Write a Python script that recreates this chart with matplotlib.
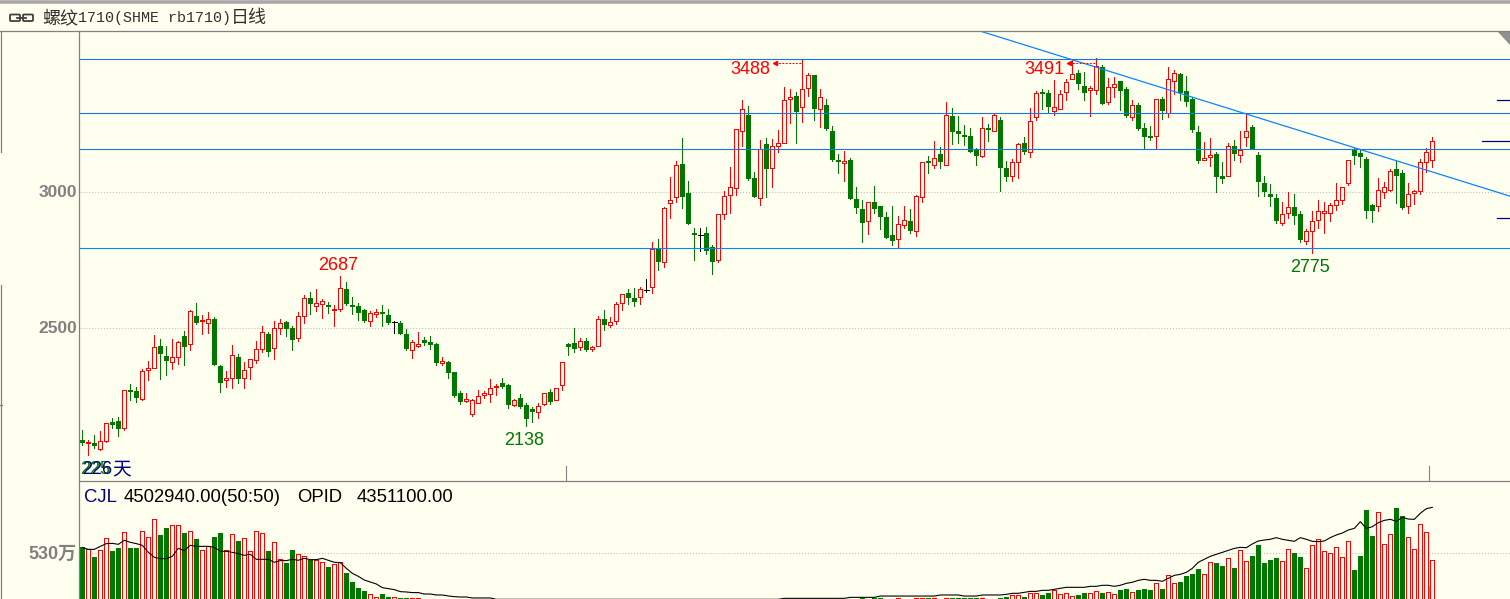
import matplotlib
matplotlib.use('Agg')
import matplotlib.pyplot as plt
from matplotlib.patches import FancyBboxPatch, Polygon

# daily candles, rb1710
opens = [2087, 2075, 2076, 2055, 2084, 2153, 2157, 2130, 2271, 2267,
         2239, 2343, 2350, 2432, 2396, 2372, 2391, 2469, 2438, 2543,
         2523, 2516, 2532, 2359, 2306, 2313, 2391, 2313, 2354, 2380,
         2423, 2476, 2424, 2500, 2519, 2499, 2463, 2541, 2609, 2581,
         2588, 2582, 2563, 2570, 2641, 2582, 2579, 2564, 2525, 2550,
         2557, 2546, 2519, 2516, 2476, 2418, 2432, 2454, 2446, 2439,
         2370, 2373, 2336, 2259, 2229, 2183, 2223, 2253, 2256, 2280,
         2296, 2288, 2216, 2240, 2215, 2200, 2190, 2220, 2262, 2234,
         2289, 2439, 2443, 2427, 2450, 2422, 2433, 2533, 2510, 2525,
         2591, 2626, 2608, 2613, 2639, 2650, 2788, 2742, 2956, 2981,
         3101, 2994, 2847, 2842, 2847, 2796, 2749, 2918, 2988, 3014,
         3223, 3281, 3049, 2977, 3174, 3087, 3168, 3179, 3341, 3351,
         3311, 3381, 3428, 3304, 3318, 3222, 3116, 3106, 3116, 2972,
         2935, 2893, 2961, 2946, 2906, 2840, 2826, 2878, 2891, 2856,
         2981, 3112, 3098, 3138, 3098, 3277, 3222, 3207, 3204, 3152,
         3132, 3233, 3223, 3263, 3086, 3058, 3109, 3178, 3144, 3275,
         3366, 3362, 3297, 3304, 3367, 3413, 3435, 3388, 3374, 3374,
         3458, 3330, 3385, 3406, 3377, 3275, 3318, 3233, 3204, 3205,
         3340, 3288, 3407, 3432, 3369, 3340, 3219, 3117, 3128, 3138,
         3057, 3058, 3167, 3135, 3199, 3237, 3134, 3031, 2991, 2976,
         2886, 2922, 2943, 2917, 2819, 2854, 2897, 2921, 2922, 2952,
         2968, 3031, 3153, 3142, 3120, 2951, 2948, 2997, 3006, 3083,
         3068, 2948, 2996, 3002, 3110, 3117]
closes = [2077, 2081, 2065, 2084, 2148, 2143, 2128, 2269, 2264, 2242,
          2340, 2350, 2427, 2404, 2378, 2391, 2446, 2430, 2560, 2518,
          2527, 2530, 2364, 2298, 2313, 2398, 2312, 2343, 2383, 2420,
          2483, 2411, 2497, 2516, 2496, 2456, 2541, 2608, 2588, 2589,
          2597, 2576, 2570, 2647, 2586, 2576, 2553, 2523, 2553, 2557,
          2550, 2516, 2519, 2476, 2421, 2446, 2438, 2443, 2435, 2369,
          2376, 2334, 2248, 2226, 2237, 2232, 2250, 2259, 2276, 2287,
          2281, 2215, 2233, 2207, 2163, 2189, 2213, 2261, 2226, 2276,
          2372, 2428, 2422, 2449, 2419, 2430, 2530, 2509, 2522, 2588,
          2625, 2608, 2593, 2640, 2639, 2788, 2740, 2938, 2967, 3099,
          2979, 2880, 2840, 2842, 2781, 2740, 2917, 2982, 3015, 3228,
          3305, 3046, 2979, 3158, 3082, 3166, 3180, 3338, 3349, 3292,
          3375, 3430, 3303, 3346, 3230, 3116, 3109, 3114, 2972, 2939,
          2884, 2960, 2935, 2906, 2829, 2818, 2879, 2894, 2855, 2983,
          3107, 3105, 3125, 3108, 3280, 3219, 3211, 3201, 3145, 3130,
          3232, 3226, 3280, 3086, 3053, 3107, 3173, 3145, 3261, 3361,
          3358, 3310, 3309, 3357, 3401, 3431, 3395, 3362, 3380, 3460,
          3321, 3386, 3394, 3369, 3277, 3317, 3230, 3200, 3196, 3339,
          3296, 3412, 3434, 3362, 3329, 3226, 3112, 3125, 3136, 3053,
          3046, 3166, 3138, 3151, 3221, 3156, 3035, 2998, 2980, 2891,
          2916, 2942, 2910, 2822, 2854, 2891, 2927, 2927, 2949, 2968,
          3016, 3115, 3131, 3127, 2929, 2929, 3005, 3016, 3074, 3057,
          2940, 2990, 3001, 3107, 3144, 3185]
highs = [2123, 2087, 2105, 2120, 2148, 2168, 2171, 2269, 2293, 2280,
         2347, 2377, 2473, 2458, 2432, 2458, 2452, 2487, 2565, 2590,
         2546, 2556, 2538, 2362, 2340, 2436, 2402, 2372, 2383, 2451,
         2505, 2485, 2523, 2532, 2523, 2505, 2556, 2620, 2630, 2642,
         2604, 2593, 2582, 2689, 2667, 2612, 2590, 2568, 2560, 2568,
         2582, 2568, 2523, 2523, 2494, 2454, 2483, 2465, 2468, 2443,
         2391, 2376, 2336, 2266, 2259, 2237, 2270, 2266, 2310, 2292,
         2314, 2292, 2236, 2255, 2222, 2207, 2222, 2261, 2273, 2276,
         2372, 2443, 2499, 2460, 2460, 2434, 2541, 2564, 2538, 2593,
         2625, 2641, 2645, 2648, 2678, 2814, 2825, 2943, 3053, 3112,
         3196, 3038, 2865, 2865, 2869, 2803, 2917, 3001, 3090, 3228,
         3336, 3314, 3071, 3189, 3196, 3193, 3226, 3383, 3376, 3365,
         3488, 3435, 3428, 3377, 3340, 3241, 3138, 3149, 3123, 3016,
         2969, 2960, 3020, 2946, 2924, 2946, 2910, 2946, 2935, 2987,
         3107, 3130, 3185, 3163, 3329, 3307, 3277, 3244, 3233, 3160,
         3274, 3248, 3285, 3274, 3112, 3119, 3178, 3200, 3307, 3368,
         3377, 3373, 3410, 3373, 3413, 3483, 3446, 3439, 3388, 3491,
         3465, 3417, 3421, 3406, 3384, 3336, 3325, 3252, 3241, 3339,
         3347, 3458, 3446, 3435, 3424, 3347, 3241, 3182, 3196, 3145,
         3108, 3177, 3189, 3222, 3285, 3244, 3145, 3057, 3027, 2991,
         2962, 2998, 2991, 2929, 2862, 2929, 2969, 2962, 2958, 3031,
         3016, 3115, 3160, 3153, 3127, 2954, 3050, 3035, 3083, 3112,
         3079, 3031, 3006, 3120, 3160, 3201]
lows = [2068, 2032, 2056, 2050, 2079, 2130, 2101, 2123, 2234, 2226,
        2235, 2307, 2350, 2311, 2326, 2348, 2366, 2362, 2418, 2513,
        2476, 2481, 2361, 2264, 2282, 2278, 2296, 2278, 2311, 2369,
        2410, 2394, 2385, 2476, 2469, 2418, 2451, 2517, 2550, 2561,
        2535, 2553, 2505, 2560, 2582, 2549, 2527, 2520, 2505, 2538,
        2505, 2512, 2479, 2476, 2417, 2387, 2428, 2435, 2421, 2362,
        2362, 2314, 2244, 2218, 2226, 2174, 2222, 2240, 2226, 2251,
        2277, 2204, 2211, 2204, 2137, 2152, 2167, 2216, 2218, 2234,
        2270, 2399, 2410, 2417, 2415, 2414, 2433, 2490, 2501, 2512,
        2564, 2586, 2579, 2586, 2630, 2626, 2711, 2722, 2902, 2961,
        2939, 2880, 2748, 2781, 2770, 2696, 2740, 2898, 2921, 2987,
        3167, 3042, 2979, 2950, 2979, 3016, 3145, 3179, 3251, 3178,
        3255, 3351, 3263, 3237, 3226, 3112, 3068, 3038, 2972, 2921,
        2814, 2843, 2921, 2862, 2829, 2803, 2792, 2866, 2847, 2836,
        2961, 3068, 3086, 3086, 3097, 3174, 3178, 3171, 3145, 3097,
        3127, 3185, 3223, 3002, 3038, 3038, 3049, 3138, 3127, 3263,
        3303, 3287, 3281, 3303, 3336, 3413, 3377, 3336, 3277, 3358,
        3321, 3321, 3347, 3299, 3274, 3263, 3226, 3155, 3189, 3155,
        3266, 3274, 3358, 3336, 3314, 3219, 3105, 3116, 3094, 2998,
        3031, 3058, 3116, 3108, 3167, 3156, 2983, 2983, 2946, 2884,
        2877, 2903, 2881, 2815, 2807, 2774, 2866, 2848, 2892, 2932,
        2954, 3024, 3101, 3090, 2903, 2888, 2929, 2976, 3002, 2958,
        2936, 2921, 2954, 2991, 3072, 3090]

# volume in units of 10k lots; the 8s sit below the cropped bottom edge
volumes = [606, 575, 488, 564, 700, 556, 590, 768, 590, 590,
           780, 712, 916, 738, 818, 848, 848, 761, 780, 693,
           564, 609, 715, 761, 568, 746, 670, 700, 553, 780,
           757, 556, 655, 462, 420, 568, 519, 496, 458, 458,
           428, 375, 405, 428, 307, 205, 137, 102, 65, 31,
           65, 34, 34, 23, 23, 23, 23, 8, 8, 8,
           8, 8, 8, 8, 8, 8, 8, 8, 8, 8,
           8, 8, 8, 8, 8, 8, 8, 8, 8, 8,
           8, 8, 8, 8, 8, 8, 8, 8, 8, 8,
           8, 8, 8, 8, 8, 8, 8, 8, 8, 8,
           8, 8, 8, 8, 8, 8, 8, 8, 8, 8,
           8, 8, 8, 8, 8, 8, 8, 8, 8, 8,
           8, 8, 8, 8, 8, 8, 8, 8, 8, 8,
           23, 8, 23, 23, 8, 8, 23, 8, 8, 23,
           23, 23, 23, 8, 23, 23, 23, 23, 23, 23,
           23, 8, 8, 23, 30, 53, 53, 30, 76, 76,
           53, 76, 117, 64, 76, 42, 53, 76, 76, 98,
           76, 87, 64, 110, 121, 87, 110, 121, 110, 189,
           121, 280, 189, 201, 269, 291, 348, 291, 428, 416,
           382, 473, 359, 564, 439, 499, 624, 420, 454, 477,
           439, 575, 534, 488, 359, 620, 689, 552, 530, 598,
           484, 666, 341, 499, 1022, 726, 995, 632, 745, 1044,
           953, 711, 575, 859, 768, 450]
vol_avg = [594, 575, 575, 609, 640, 643, 632, 678, 655, 640,
           621, 541, 485, 469, 469, 496, 587, 560, 621, 609,
           609, 609, 598, 553, 553, 541, 526, 507, 519, 462,
           462, 462, 428, 447, 447, 462, 451, 473, 458, 458,
           473, 451, 428, 424, 360, 303, 269, 227, 205, 182,
           140, 129, 118, 95, 91, 84, 84, 68, 68, 57,
           57, 46, 38, 34, 34, 23, 23, 23, 23, 8,
           8, 8, 8, 8, 8, 8, 8, 8, 8, 8,
           8, 8, 8, 8, 8, 8, 8, 8, 8, 8,
           8, 8, 8, 8, 8, 8, 8, 8, 8, 8,
           8, 8, 8, 8, 8, 8, 8, 8, 8, 8,
           8, 8, 8, 8, 8, 8, 8, 19, 19, 19,
           19, 19, 19, 19, 19, 19, 19, 19, 30, 30,
           30, 30, 30, 45, 45, 45, 45, 45, 45, 45,
           45, 45, 45, 57, 57, 57, 57, 45, 45, 45,
           57, 57, 57, 57, 64, 76, 76, 87, 98, 98,
           110, 110, 121, 132, 144, 144, 144, 144, 155, 155,
           167, 167, 155, 167, 189, 201, 223, 235, 223, 223,
           212, 246, 280, 291, 314, 359, 428, 462, 496, 518,
           541, 564, 586, 598, 594, 636, 670, 681, 689, 708,
           689, 677, 666, 708, 689, 666, 662, 670, 708, 738,
           760, 795, 813, 889, 813, 832, 878, 904, 916, 893,
           938, 919, 916, 984, 1037, 1052]

level_prices = [3486, 3287, 3155]
support_price = 2791
trend_x = [149.6, 237.95]
trend_y = [3590, 2983]
side_mark_prices = [3336, 3186, 2903]
side_mark_x = [235.8, 233.3, 235.8]
peak_idx = [120, 169]
peak_arrow_y = [3471, 3471]

BG = '#FFFFF0'
RED = '#FF0000'
GREEN = '#007800'
GREY = '#808080'
BLUE = '#1878D8'
WIDTH, HEIGHT = 1510, 599

fig = plt.figure(figsize=(WIDTH / 100, HEIGHT / 100), dpi=100, facecolor=BG)
left = 79.5 / WIDTH
ax = fig.add_axes([left, 1 - 481 / HEIGHT, 1 - left, 450 / HEIGHT], facecolor=BG)
vax = fig.add_axes([left, 0, 1 - left, 118 / HEIGHT], facecolor=BG)


def body_color(o, c):
    if c > o:
        return RED
    if c < o:
        return GREEN
    return 'black'


xs = list(range(len(opens)))
for x, o, h, l, c in zip(xs, opens, highs, lows, closes):
    col = body_color(o, c)
    ax.vlines(x, l, h, color=col, lw=0.72, zorder=2, antialiased=False)
    if col == RED:
        ax.bar(x, c - o, bottom=o, width=0.7, facecolor=BG, edgecolor=RED, lw=0.72,
               zorder=3, antialiased=False)
    elif col == GREEN:
        ax.bar(x, o - c, bottom=c, width=0.86, color=GREEN, lw=0, zorder=3, antialiased=False)
    else:
        ax.hlines(c, x - 0.4, x + 0.4, color='black', lw=0.72, zorder=3, antialiased=False)

for v_x, v, o, c in zip(xs, volumes, opens, closes):
    if c >= o:
        vax.bar(v_x, v, width=0.7, facecolor=BG, edgecolor=RED, lw=0.72, zorder=2, antialiased=False)
    else:
        vax.bar(v_x, v, width=0.86, color=GREEN, lw=0, zorder=2, antialiased=False)
vax.plot(xs, vol_avg, color='black', lw=0.8, zorder=3)

# horizontal levels and the falling trend line
for p in level_prices:
    ax.axhline(p, color=BLUE, lw=0.8, zorder=4)
ax.axhline(support_price, color='#0A84FF', lw=0.8, zorder=4)
ax.plot(trend_x, trend_y, color='#0A84FF', lw=0.9, zorder=4)
ax.axhline(3000, color='#C0C0C0', lw=0.8, ls=':', zorder=1)
ax.axhline(2500, color='#C0C0C0', lw=0.8, ls=':', zorder=1)
vax.axhline(530, color='#C0C0C0', lw=0.8, ls=':', zorder=1)

for p, sx in zip(side_mark_prices, side_mark_x):
    ax.plot([sx, 237.95], [p, p], color='#000080', lw=0.9, zorder=4)

for i, y in zip(peak_idx, peak_arrow_y):
    ax.plot([i - 4.6, i], [y, y], color=RED, lw=0.7, ls=(0, (2, 1.5)), zorder=4)
    ax.plot([i - 4.6], [y], color=RED, marker='<', ms=3, zorder=4)

ax.set_xlim(-0.47, 237.95)
ax.set_ylim(1936, 3590)
vax.set_xlim(-0.47, 237.95)
vax.set_ylim(11.35, 1351)
for a in (ax, vax):
    a.set_xticks([])
    a.set_yticks([])
    for s in a.spines.values():
        s.set_visible(False)

# window chrome and labels, in screen pixels
page = fig.add_axes([0, 0, 1, 1], facecolor='none')
page.set_xlim(0, WIDTH)
page.set_ylim(HEIGHT, 0)
page.axis('off')
page.plot([0, 1510], [1.5, 1.5], color='#A8A8A8', lw=2.6, clip_on=False)
page.plot([0, 1510], [31.0, 31.0], color=GREY, lw=0.9)
page.plot([79.0, 79.0], [31, 599], color=GREY, lw=0.9)
page.plot([79.0, 1510], [481.0, 481.0], color=GREY, lw=0.9)
page.plot([1.0, 1.0], [32, 152], color=GREY, lw=0.9)
page.plot([1.0, 1.0], [285, 599], color=GREY, lw=0.9)
page.plot([0, 2], [405, 405], color=GREY, lw=0.9)
for tx in (566.0, 1429.0):
    page.plot([tx, tx], [466, 481], color=GREY, lw=0.8)
page.plot([1429.0, 1429.0], [586, 599], color='#B0A0A0', lw=0.8)
page.add_patch(Polygon([[1497, 31], [1510, 31], [1510, 45]], closed=True, color='#909090', lw=0))

page.add_patch(FancyBboxPatch((11, 15.5), 8, 4.5, boxstyle='round,pad=1', fc='none', ec='#404040', lw=1.3))
page.add_patch(FancyBboxPatch((24, 15.5), 8, 4.5, boxstyle='round,pad=1', fc='none', ec='#404040', lw=1.3))
page.plot([17, 26], [18, 18], color='#404040', lw=1.3)

CJK = ['Noto Sans CJK SC', 'DejaVu Sans']
LABEL = 'Liberation Sans'
page.text(42, 18, '螺纹', family=CJK, fontsize=13, va='center', color='#303030')
page.text(78, 18, '1710(SHME rb1710)', family='Liberation Mono', fontsize=10.8, va='center', color='#303030')
page.text(231, 18, '日线', family=CJK, fontsize=13, va='center', color='#303030')

page.text(77, 192.5, '3000', family=LABEL, fontsize=12.5, weight='bold', color=GREY, ha='right', va='center')
page.text(77, 328.5, '2500', family=LABEL, fontsize=12.5, weight='bold', color=GREY, ha='right', va='center')
page.text(77, 554.5, '530万', family=[LABEL, 'Noto Sans CJK SC'], fontsize=13, weight='bold',
          color=GREY, ha='right', va='center')

page.text(730, 69.5, '3488', family=LABEL, fontsize=13, color=RED, va='center')
page.text(1024, 69.5, '3491', family=LABEL, fontsize=13, color=RED, va='center')
page.text(338, 265.5, '2687', family=LABEL, fontsize=13, color=RED, ha='center', va='center')
page.text(524, 440.5, '2138', family=LABEL, fontsize=13, color=GREEN, ha='center', va='center')
page.text(1310, 267.5, '2775', family=LABEL, fontsize=13, color=GREEN, ha='center', va='center')

page.text(80, 470, '225', family=LABEL, fontsize=13, color='#007800', va='center')
page.text(82, 470, '226', family=LABEL, fontsize=13, color='#000080', va='center')
page.text(112, 469, '天', family=CJK, fontsize=13.5, color='#000080', va='center')

page.text(84, 497.5, 'CJL', family=LABEL, fontsize=13.3, color='#000080', va='center')
page.text(124, 497.5, '4502940.00(50:50)', family=LABEL, fontsize=13.3, color='black', va='center')
page.text(297, 497.5, 'OPID', family=LABEL, fontsize=13.3, color='black', va='center')
page.text(357, 497.5, '4351100.00', family=LABEL, fontsize=13.3, color='black', va='center')

fig.savefig('out.png', dpi=100, facecolor=BG)
